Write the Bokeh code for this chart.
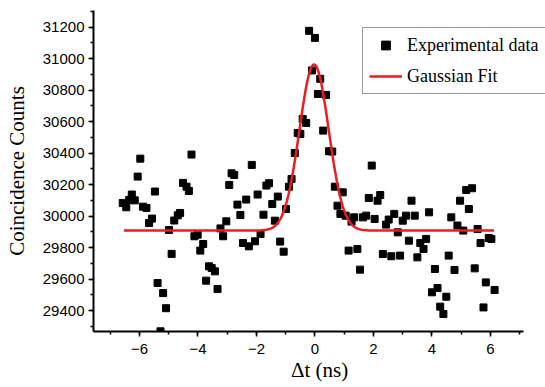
import numpy as np
from bokeh.plotting import figure
from bokeh.models import (Range1d, SingleIntervalTicker, Legend, LegendItem)
from bokeh.embed import file_html
from bokeh.resources import INLINE

# Experimental data (delta t in ns, coincidence counts)
dt = [-6.57, -6.45, -6.35, -6.26, -6.16, -6.06, -5.97, -5.88, -5.76, -5.67,
      -5.57, -5.47, -5.38, -5.28, -5.19, -5.09, -4.99, -4.90, -4.81, -4.69,
      -4.61, -4.51, -4.39, -4.31, -4.22, -4.12, -4.01, -3.92, -3.82, -3.72,
      -3.62, -3.53, -3.42, -3.33, -3.23, -3.14, -3.03, -2.93, -2.85, -2.76,
      -2.65, -2.55, -2.46, -2.35, -2.26, -2.16, -2.05, -1.96, -1.86, -1.76,
      -1.66, -1.57, -1.46, -1.37, -1.27, -1.19, -1.07, -0.99, -0.89, -0.80,
      -0.69, -0.59, -0.50, -0.42, -0.30, -0.20, -0.10, 0.00, 0.10, 0.18,
      0.28, 0.38, 0.48, 0.59, 0.68, 0.77, 0.87, 0.95, 1.05, 1.15,
      1.25, 1.34, 1.45, 1.54, 1.64, 1.75, 1.84, 1.94, 2.04, 2.14,
      2.23, 2.32, 2.43, 2.52, 2.61, 2.71, 2.83, 2.91, 3.00, 3.11,
      3.21, 3.30, 3.41, 3.50, 3.60, 3.71, 3.80, 3.90, 4.00, 4.10,
      4.19, 4.28, 4.39, 4.49, 4.57, 4.66, 4.77, 4.87, 4.96, 5.07,
      5.17, 5.26, 5.37, 5.46, 5.56, 5.66, 5.76, 5.84, 5.94, 6.03, 6.14]
counts = [30083, 30056, 30103, 30137, 30100, 30251, 30365, 30060, 30052, 29956,
          29984, 30156, 29575, 29268, 29511, 29415, 29912, 29760, 29972, 30005,
          30020, 30211, 30187, 30160, 30391, 29872, 29882, 29781, 29823, 29590,
          29681, 29670, 29649, 29537, 29922, 29872, 29967, 30198, 30272, 30261,
          30073, 30007, 29829, 30105, 29808, 30325, 29840, 30137, 29886, 30009,
          30194, 30209, 30077, 29971, 30124, 29838, 29774, 30045, 30187, 30236,
          30401, 30528, 30522, 30617, 30592, 31177, 30925, 31132, 30776, 30872,
          30543, 30770, 30412, 30410, 30187, 30066, 30014, 30151, 30003, 29781,
          29965, 29992, 29791, 29660, 29992, 30003, 30115, 30321, 29982, 30098,
          30134, 29759, 29946, 29978, 29745, 30014, 29897, 29749, 29971, 30003,
          29844, 30098, 30003, 29738, 29829, 29791, 29855, 30024, 29516, 29664,
          29543, 29425, 29378, 29488, 29749, 29992, 29658, 29940, 30098, 29908,
          30166, 30045, 30177, 29668, 29918, 29829, 29420, 29579, 29861, 29855, 29531]

# Gaussian fit parameters
fit_y0 = 29908
fit_A = 1055
fit_xc = -0.03
fit_sigma = 0.50
fit_xmin, fit_xmax = -6.53, 6.12

fit_x = np.linspace(fit_xmin, fit_xmax, 500)
fit_y = fit_y0 + fit_A * np.exp(-((fit_x - fit_xc) ** 2) / (2 * fit_sigma ** 2))

p = figure(width=545, height=387, output_backend="svg", toolbar_location=None,
           x_range=Range1d(-7.57, 7.88), y_range=Range1d(29267, 31306),
           min_border_left=93, min_border_right=0, min_border_top=10,
           min_border_bottom=56)
p.outline_line_color = None
p.xgrid.visible = False
p.ygrid.visible = False
p.background_fill_color = "white"
p.border_fill_color = "white"

p.xaxis.ticker = SingleIntervalTicker(interval=2, num_minor_ticks=2)
p.yaxis.ticker = SingleIntervalTicker(interval=200, num_minor_ticks=2)
p.xaxis.bounds = (-7.57, 7.12)

for ax in (p.xaxis[0], p.yaxis[0]):
    ax.axis_line_width = 2
    ax.axis_line_color = "black"
    ax.major_tick_line_width = 1.5
    ax.minor_tick_line_width = 1.5
    ax.major_tick_line_color = "black"
    ax.minor_tick_line_color = "black"
    ax.major_tick_in = 0
    ax.minor_tick_in = 0
    ax.major_tick_out = 5
    ax.minor_tick_out = 3
    ax.major_label_text_font = "Liberation Sans"
    ax.major_label_text_font_size = "15px"
    ax.major_label_text_color = "black"
    ax.axis_label_text_font = "Liberation Serif"
    ax.axis_label_text_font_size = "21px"
    ax.axis_label_text_font_style = "normal"
    ax.axis_label_text_color = "black"

p.xaxis.axis_label = "Δt (ns)"
p.yaxis.axis_label = "Coincidence Counts"
p.xaxis.major_label_standoff = 7
p.xaxis.axis_label_standoff = 1
p.yaxis.major_label_standoff = 4
p.yaxis.axis_label_standoff = 11

r_data = p.scatter(dt, counts, marker="square", size=7, color="black")
r_fit = p.line(fit_x, fit_y, line_color="#ed1c24", line_width=2.5)

legend = Legend(items=[LegendItem(label="Experimental data", renderers=[r_data]),
                       LegendItem(label="Gaussian Fit", renderers=[r_fit])],
                location=(269, 237))
legend.label_text_font = "Liberation Serif"
legend.label_text_font_size = "18px"
legend.label_text_color = "black"
legend.glyph_width = 33
legend.glyph_height = 22
legend.label_height = 22
legend.label_width = 150
legend.label_standoff = 5
legend.spacing = 9
legend.padding = 6
legend.margin = 0
legend.border_line_color = "#333333"
legend.border_line_width = 1.5
legend.background_fill_color = "white"
legend.background_fill_alpha = 1.0
p.add_layout(legend)

open("out.html", "w").write(file_html(p, INLINE))
